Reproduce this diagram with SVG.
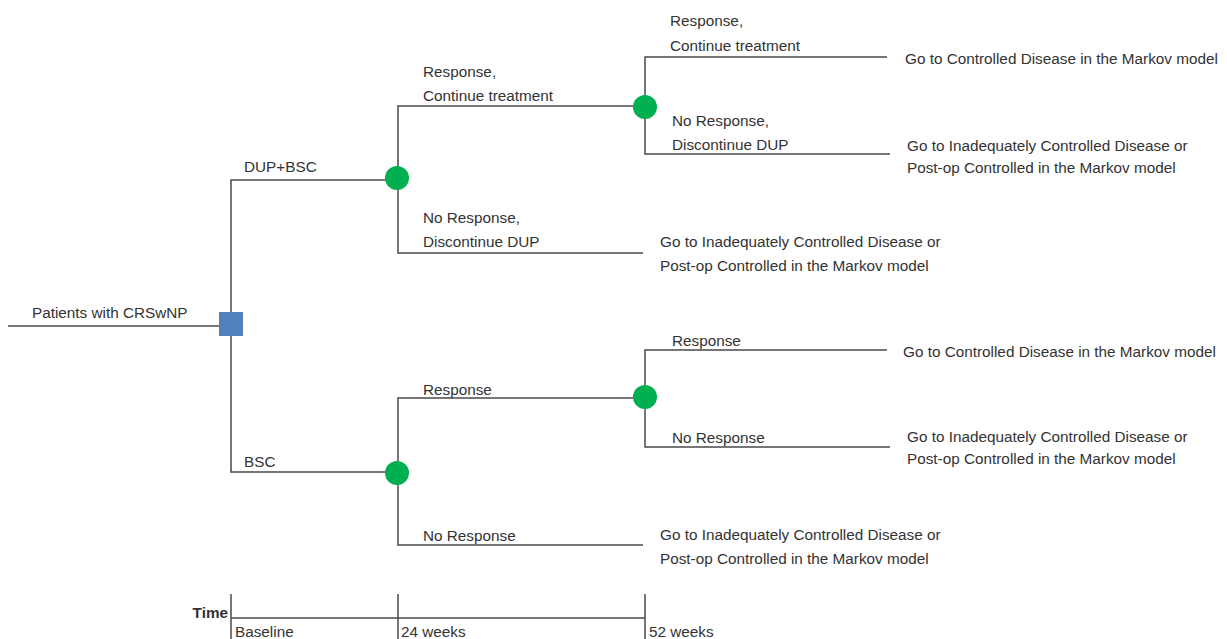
<svg xmlns="http://www.w3.org/2000/svg" width="1227" height="639" viewBox="0 0 1227 639">
<style>
.ln{stroke:#4a4a4a;stroke-width:1.5;fill:none}
.t{font-family:"Liberation Sans",Arial,sans-serif;font-size:15.3px;fill:#333}
.b{font-weight:bold}
.ch{fill:#00b050}
.dec{fill:#4f81bd}
</style>
<rect width="1227" height="639" fill="#fff"/>
<g id="connectors">
<path class="ln" d="M8,326 H231"/>
<path class="ln" d="M398,180 H231 V472 H398"/>
<path class="ln" d="M644,106 H398 V253 H643"/>
<path class="ln" d="M887,57 H645 V154 H890"/>
<path class="ln" d="M644,398 H398 V545 H643"/>
<path class="ln" d="M887,350 H645 V447 H890"/>
</g>
<g id="root"><text class="t" x="32" y="318">Patients with CRSwNP</text></g>
<g id="decision"><rect class="dec" x="219" y="312" width="24" height="24"/></g>
<g id="arm-dup"><text class="t" x="244" y="172">DUP+BSC</text></g>
<g id="arm-bsc"><text class="t" x="244" y="467">BSC</text></g>
<g id="chance1"><circle class="ch" cx="397" cy="178" r="12"/></g>
<g id="chance2"><circle class="ch" cx="645" cy="107" r="12"/></g>
<g id="chance3"><circle class="ch" cx="397" cy="473" r="12"/></g>
<g id="chance4"><circle class="ch" cx="645" cy="397" r="12"/></g>
<g id="labels">
<text class="t" x="423" y="77">Response,</text>
<text class="t" x="423" y="101">Continue treatment</text>
<text class="t" x="423" y="223">No Response,</text>
<text class="t" x="423" y="247">Discontinue DUP</text>
<text class="t" x="670" y="26">Response,</text>
<text class="t" x="670" y="51">Continue treatment</text>
<text class="t" x="672" y="126">No Response,</text>
<text class="t" x="672" y="150">Discontinue DUP</text>
<text class="t" x="423" y="395">Response</text>
<text class="t" x="423" y="541">No Response</text>
<text class="t" x="672" y="346">Response</text>
<text class="t" x="672" y="443">No Response</text>
</g>
<g id="term1"><text class="t" x="905" y="64">Go to Controlled Disease in the Markov model</text></g>
<g id="term2"><text class="t" x="907" y="151">Go to Inadequately Controlled Disease or</text><text class="t" x="907" y="173">Post-op Controlled in the Markov model</text></g>
<g id="term3"><text class="t" x="660" y="247">Go to Inadequately Controlled Disease or</text><text class="t" x="660" y="271">Post-op Controlled in the Markov model</text></g>
<g id="term4"><text class="t" x="903" y="357">Go to Controlled Disease in the Markov model</text></g>
<g id="term5"><text class="t" x="907" y="442">Go to Inadequately Controlled Disease or</text><text class="t" x="907" y="464">Post-op Controlled in the Markov model</text></g>
<g id="term6"><text class="t" x="660" y="540">Go to Inadequately Controlled Disease or</text><text class="t" x="660" y="564">Post-op Controlled in the Markov model</text></g>
<g id="timeline">
<path class="ln" d="M231,618 H645 M231,594 V639 M398,594 V639 M645,594 V639"/>
<text class="t b" x="228" y="618" text-anchor="end" font-size="13">Time</text>
<text class="t" x="235" y="637">Baseline</text>
<text class="t" x="401" y="637">24 weeks</text>
<text class="t" x="649" y="637">52 weeks</text>
</g>
</svg>
